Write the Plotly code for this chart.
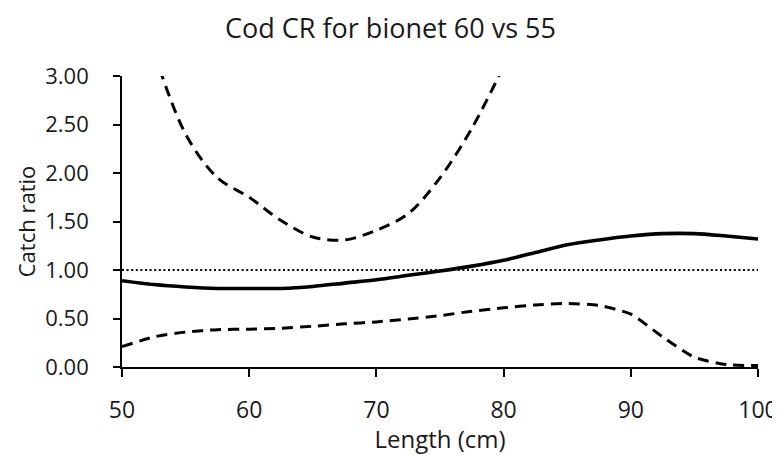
import plotly.graph_objects as go

length_cm = [50, 52.5, 55, 57.5, 60, 62.5, 65, 67.5, 70, 72.5, 75, 77.5, 80,
             82.5, 85, 87.5, 90, 92.5, 95, 97.5, 100]
catch_ratio = [0.89, 0.85, 0.825, 0.81, 0.81, 0.81, 0.83, 0.865, 0.90, 0.945, 0.99,
               1.04, 1.10, 1.18, 1.26, 1.31, 1.35, 1.375, 1.375, 1.35, 1.32]
lower_ci = [0.21, 0.31, 0.36, 0.385, 0.39, 0.40, 0.42, 0.445, 0.465, 0.495, 0.53,
            0.575, 0.61, 0.64, 0.655, 0.635, 0.545, 0.31, 0.10, 0.025, 0.015]
upper_x = [52.5, 55, 57.5, 60, 62.5, 65, 67.5, 70, 72.5, 75, 77.5, 80]
upper_ci = [3.25, 2.40, 1.95, 1.75, 1.51, 1.34, 1.31, 1.41, 1.58, 1.95, 2.46, 3.10]
ref_x = [50, 100]
ref_y = [1.0, 1.0]

x_ticks = [50, 60, 70, 80, 90, 100]
y_ticks = [0, 0.5, 1.0, 1.5, 2.0, 2.5, 3.0]
y_tick_labels = ["0.00", "0.50", "1.00", "1.50", "2.00", "2.50", "3.00"]

FONT = "Open Sans"
TXT = "#1a1a1a"
W, H = 772, 447  # page body has an 8px margin

fig = go.Figure()
fig.add_trace(go.Scatter(x=ref_x, y=ref_y, mode="lines",
                         line=dict(color="black", width=2.2, dash="2px,2.6px"),
                         showlegend=False))
fig.add_trace(go.Scatter(x=upper_x, y=upper_ci, mode="lines",
                         line=dict(color="black", width=3, dash="11px,7px",
                                   shape="spline", smoothing=0.9),
                         showlegend=False))
fig.add_trace(go.Scatter(x=length_cm, y=lower_ci, mode="lines",
                         line=dict(color="black", width=3, dash="11px,7px",
                                   shape="spline", smoothing=0.6),
                         showlegend=False))
fig.add_trace(go.Scatter(x=length_cm, y=catch_ratio, mode="lines",
                         line=dict(color="black", width=3.6, shape="spline", smoothing=0.8),
                         showlegend=False))

fig.update_layout(
    width=W, height=H,
    margin=dict(l=114, r=22, t=68, b=88),
    paper_bgcolor="white", plot_bgcolor="white",
    title=dict(text="Cod CR for bionet 60 vs 55", x=(390.5 - 8) / W, xref="container",
               y=1 - 21 / H, yref="container", xanchor="center", yanchor="middle",
               font=dict(family=FONT, size=27, color=TXT)),
    font=dict(family=FONT, color=TXT),
)
fig.update_xaxes(range=[50, 100], tickvals=x_ticks, showgrid=False, zeroline=False,
                 automargin=False,
                 showline=True, linecolor="black", linewidth=1.6,
                 ticks="outside", ticklen=8, tickwidth=1.6, tickcolor="black",
                 ticklabelstandoff=14,
                 tickfont=dict(family=FONT, size=23, color=TXT),
                 title=dict(text="Length (cm)", font=dict(family=FONT, size=24, color=TXT),
                            standoff=8))
fig.update_yaxes(range=[0, 3], tickvals=y_ticks, ticktext=y_tick_labels,
                 showgrid=False, zeroline=False, automargin=False,
                 showline=True, linecolor="black", linewidth=1.6,
                 ticks="outside", ticklen=7, tickwidth=1.6, tickcolor="black",
                 ticklabelstandoff=20,
                 tickfont=dict(family=FONT, size=22, color=TXT),
                 title=dict(text="Catch ratio", font=dict(family=FONT, size=22, color=TXT),
                            standoff=4))

fig.write_html("out.html")
